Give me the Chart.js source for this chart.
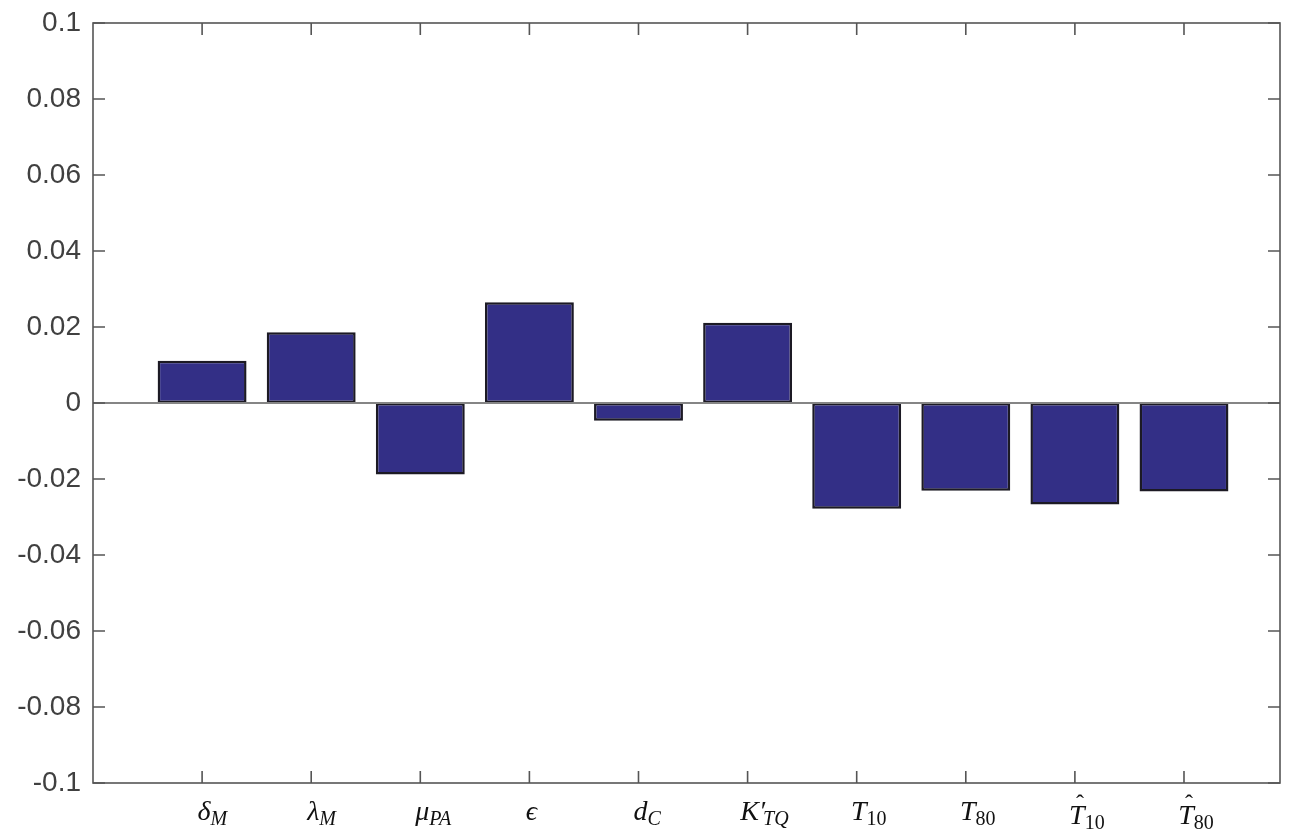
<!DOCTYPE html>
<html>
<head>
<meta charset="utf-8">
<script src="https://cdn.jsdelivr.net/npm/chart.js@4/dist/chart.umd.min.js"></script>
<style>
  html, body { margin: 0; padding: 0; background: #fff; }
</style>
</head>
<body>
<canvas id="myChart" width="1298" height="831"></canvas>
<script>
// parameter labels: "^" = hat on main symbol, "_" starts subscript
const categories = ['δ_M', 'λ_M', 'μ_PA', 'ϵ', 'd_C', "K′_TQ", 'T_10', 'T_80', '^T_10', '^T_80'];
const positions = [1, 2, 3, 4, 5, 6, 7, 8, 9, 10];
const sensitivity = [0.0111, 0.0186, -0.0188, 0.0265, -0.0047, 0.0211, -0.0278, -0.0231, -0.0267, -0.0233];
const yTickValues = [-0.1, -0.08, -0.06, -0.04, -0.02, 0, 0.02, 0.04, 0.06, 0.08, 0.1];
const yTickLabels = ['-0.1', '-0.08', '-0.06', '-0.04', '-0.02', '0', '0.02', '0.04', '0.06', '0.08', '0.1'];

const axisColor = '#555555';
const tickLen = 12;

// box, inward ticks and zero line
const framePlugin = {
  id: 'frame',
  afterDatasetsDraw(chart) {
    const { ctx, chartArea: a } = chart;
    const xs = chart.scales.x, ys = chart.scales.y;
    ctx.save();
    // zero line
    const y0 = ys.getPixelForValue(0);
    ctx.strokeStyle = '#858585';
    ctx.lineWidth = 2;
    ctx.beginPath();
    ctx.moveTo(a.left, y0);
    ctx.lineTo(a.right, y0);
    ctx.stroke();

    ctx.strokeStyle = axisColor;
    ctx.lineWidth = 1.6;
    ctx.strokeRect(a.left, a.top, a.right - a.left, a.bottom - a.top);
    ctx.beginPath();
    positions.forEach((p) => {
      const x = xs.getPixelForValue(p);
      ctx.moveTo(x, a.bottom);
      ctx.lineTo(x, a.bottom - tickLen);
      ctx.moveTo(x, a.top);
      ctx.lineTo(x, a.top + tickLen);
    });
    yTickValues.forEach((v) => {
      const y = ys.getPixelForValue(v);
      ctx.moveTo(a.left, y);
      ctx.lineTo(a.left + tickLen, y);
      ctx.moveTo(a.right, y);
      ctx.lineTo(a.right - tickLen, y);
    });
    ctx.stroke();
    ctx.restore();
  }
};

// math-style category labels under the axis
const mathLabels = {
  id: 'mathLabels',
  afterDraw(chart) {
    const { ctx, chartArea: a } = chart;
    const xs = chart.scales.x;
    const mainFont = 'italic 28px "Liberation Serif", "DejaVu Serif", serif';
    const subItalic = 'italic 20px "Liberation Serif", "DejaVu Serif", serif';
    const subUpright = '20px "Liberation Serif", "DejaVu Serif", serif';
    ctx.save();
    ctx.fillStyle = '#111';
    ctx.textBaseline = 'alphabetic';
    ctx.textAlign = 'left';
    categories.forEach((lab, i) => {
      let hat = false;
      if (lab[0] === '^') { hat = true; lab = lab.slice(1); }
      const parts = lab.split('_');
      const main = parts[0];
      const sub = parts[1] || '';
      const cx = xs.getPixelForValue(positions[i]);
      const base = a.bottom + 37 + (hat ? 4 : 0);

      ctx.font = mainFont;
      const glyph = main[0];
      const gw = ctx.measureText(glyph).width;
      const mw = ctx.measureText(main).width;
      const x0 = cx - gw / 2 + 2;
      ctx.fillText(main, x0, base);
      if (hat) {
        ctx.font = '24px "Liberation Serif", "DejaVu Serif", serif';
        ctx.textAlign = 'center';
        ctx.fillText('ˆ', x0 + gw / 2 + 3, base - 13);
        ctx.textAlign = 'left';
      }
      if (sub) {
        ctx.font = /^\d+$/.test(sub) ? subUpright : subItalic;
        ctx.fillText(sub, x0 + mw - (main.length > 1 ? 2 : 0), base + 5);
      }
    });
    ctx.restore();
  }
};

const ctx = document.getElementById('myChart').getContext('2d');
const myChart = new Chart(ctx, {
  type: 'bar',
  data: {
    datasets: [
      {
        data: sensitivity.map((v, i) => ({ x: positions[i], y: v })),
        backgroundColor: '#332f86',
        borderColor: '#1c1a24',
        borderWidth: 2.5,
        borderSkipped: false,
        barPercentage: 0.815,
        categoryPercentage: 1,
      }
    ]
  },
  options: {
    responsive: false,
    animation: false,
    layout: { padding: { top: 23, right: 18, left: 0, bottom: 0 } },
    plugins: {
      legend: { display: false },
      tooltip: { enabled: false },
    },
    scales: {
      x: {
        type: 'linear',
        offset: false,
        min: 0,
        max: 10.88,
        afterBuildTicks(scale) {
          scale.ticks = positions.map((v) => ({ value: v }));
        },
        ticks: { display: false },
        grid: { display: false, offset: false },
        border: { display: false },
        afterFit(scale) { scale.height = 48; },
      },
      y: {
        min: -0.1,
        max: 0.1,
        afterBuildTicks(scale) {
          scale.ticks = yTickValues.map((v) => ({ value: v }));
        },
        ticks: {
          callback: (value, index) => yTickLabels[index],
          font: { family: '"Liberation Sans", Arial, sans-serif', size: 28 },
          color: '#404040',
          padding: 12,
        },
        grid: { display: false, drawTicks: false },
        border: { display: false },
        afterFit(scale) {
          scale.width = 93;
          scale.paddingTop = 0;
          scale.paddingBottom = 0;
        },
      }
    }
  },
  plugins: [framePlugin, mathLabels]
});
</script>
</body>
</html>
